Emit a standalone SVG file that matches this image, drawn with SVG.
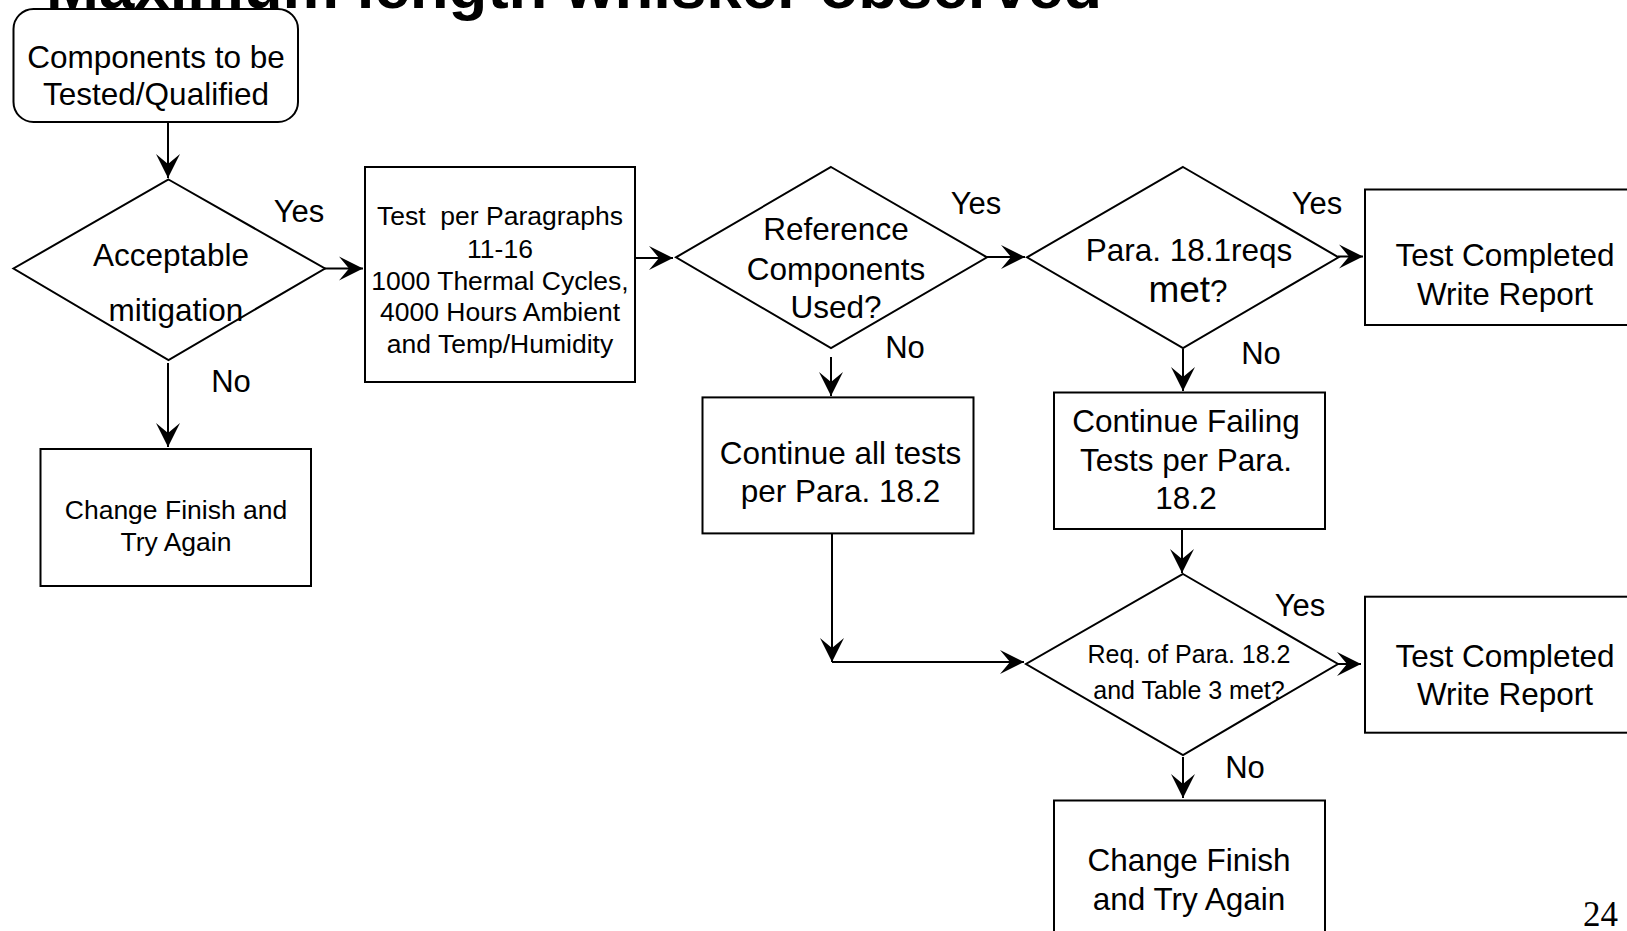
<svg xmlns="http://www.w3.org/2000/svg" width="1627" height="931" viewBox="0 0 1627 931">
<style>
.shape{fill:#fff;stroke:#000;stroke-width:2}
.t{font-family:"Liberation Sans",Arial,sans-serif;font-size:31.5px;fill:#000;text-anchor:middle}
.s{font-size:26.5px}
.r{font-size:25px}
.lbl{font-family:"Liberation Sans",Arial,sans-serif;font-size:31px;fill:#000;text-anchor:middle}
.c{fill:none;stroke:#000;stroke-width:2}
</style>
<defs>
<marker id="ah" markerUnits="userSpaceOnUse" markerWidth="30" markerHeight="30" viewBox="-26 -14 30 28" refX="0" refY="0" orient="auto">
<path d="M0,0 L-24,-12 L-14,0 L-24,12 Z" fill="#000"/>
</marker>
</defs>
<rect width="1627" height="931" fill="#fff"/>
<text x="46" y="8" font-family="'Liberation Sans',Arial,sans-serif" font-weight="bold" font-size="62" fill="#000" textLength="1056" lengthAdjust="spacingAndGlyphs">Maximum length whisker observed</text>

<g id="connectors">
<line class="c" x1="168" y1="122" x2="168" y2="178" marker-end="url(#ah)"/>
<line class="c" x1="324" y1="268.5" x2="363" y2="268.5" marker-end="url(#ah)"/>
<line class="c" x1="168" y1="363" x2="168" y2="447" marker-end="url(#ah)"/>
<line class="c" x1="635" y1="258" x2="673" y2="258" marker-end="url(#ah)"/>
<line class="c" x1="987" y1="257" x2="1025" y2="257" marker-end="url(#ah)"/>
<line class="c" x1="1338" y1="256.5" x2="1363" y2="256.5" marker-end="url(#ah)"/>
<line class="c" x1="831" y1="357" x2="831" y2="396" marker-end="url(#ah)"/>
<line class="c" x1="1183" y1="349" x2="1183" y2="391" marker-end="url(#ah)"/>
<line class="c" x1="832" y1="533" x2="832" y2="662" marker-end="url(#ah)"/>
<line class="c" x1="832" y1="662" x2="1024" y2="662" marker-end="url(#ah)"/>
<line class="c" x1="1182" y1="529" x2="1182" y2="573" marker-end="url(#ah)"/>
<line class="c" x1="1338" y1="664" x2="1361" y2="664" marker-end="url(#ah)"/>
<line class="c" x1="1183" y1="757" x2="1183" y2="798" marker-end="url(#ah)"/>
</g>

<g id="start">
<rect class="shape" x="13.5" y="9" width="284.5" height="113" rx="20"/>
<text class="t" x="156" y="68">Components to be</text>
<text class="t" x="156" y="105">Tested/Qualified</text>
</g>

<g id="d-mitigation">
<polygon class="shape" points="168.5,179.5 325,268.5 168.5,360 13.5,268.5"/>
<text class="t" x="171" y="266">Acceptable</text>
<text class="t" x="176" y="321">mitigation</text>
</g>

<g id="test">
<rect class="shape" x="365" y="167" width="270" height="215"/>
<text class="t s" x="500" y="225" xml:space="preserve">Test  per Paragraphs</text>
<text class="t s" x="500" y="257.5">11-16</text>
<text class="t s" x="500" y="289.5">1000 Thermal Cycles,</text>
<text class="t s" x="500" y="320.5">4000 Hours Ambient</text>
<text class="t s" x="500" y="353">and Temp/Humidity</text>
</g>

<g id="change1">
<rect class="shape" x="40.5" y="449" width="270.5" height="137"/>
<text class="t s" x="176" y="519">Change Finish and</text>
<text class="t s" x="176" y="551">Try Again</text>
</g>

<g id="d-reference">
<polygon class="shape" points="831,167 987,257.3 831,348 676,257.3"/>
<text class="t" x="836" y="240">Reference</text>
<text class="t" x="836" y="280">Components</text>
<text class="t" x="836" y="318">Used?</text>
</g>

<g id="d-181">
<polygon class="shape" points="1183,167 1338.5,257.3 1183,348 1027,257.3"/>
<text class="t" x="1189" y="261">Para. 18.1reqs</text>
<text class="t" x="1188" y="302"><tspan font-size="37">met</tspan>?</text>
</g>

<g id="done1">
<rect class="shape" x="1365" y="189.5" width="280" height="135.5"/>
<text class="t" x="1505" y="266">Test Completed</text>
<text class="t" x="1505" y="304.5">Write Report</text>
</g>

<g id="continue-all">
<rect class="shape" x="702.5" y="397.4" width="271" height="136"/>
<text class="t" x="840.5" y="463.5">Continue all tests</text>
<text class="t" x="840.5" y="501.8">per Para. 18.2</text>
</g>

<g id="continue-failing">
<rect class="shape" x="1054" y="392.5" width="271" height="136.5"/>
<text class="t" x="1186" y="432">Continue Failing</text>
<text class="t" x="1186" y="470.7">Tests per Para.</text>
<text class="t" x="1186" y="509">18.2</text>
</g>

<g id="d-182">
<polygon class="shape" points="1183,574 1338,664 1183,755 1026,664"/>
<text class="t r" x="1189" y="662.7">Req. of Para. 18.2</text>
<text class="t r" x="1189" y="699">and Table 3 met?</text>
</g>

<g id="done2">
<rect class="shape" x="1365" y="596.7" width="280" height="136"/>
<text class="t" x="1505" y="667">Test Completed</text>
<text class="t" x="1505" y="705">Write Report</text>
</g>

<g id="change2">
<rect class="shape" x="1054" y="800.5" width="271" height="150"/>
<text class="t" x="1189" y="871">Change Finish</text>
<text class="t" x="1189" y="909.6">and Try Again</text>
</g>

<g id="labels">
<text class="lbl" x="299" y="221.6">Yes</text>
<text class="lbl" x="231" y="392">No</text>
<text class="lbl" x="976" y="214">Yes</text>
<text class="lbl" x="905" y="357.5">No</text>
<text class="lbl" x="1317" y="214">Yes</text>
<text class="lbl" x="1261" y="364">No</text>
<text class="lbl" x="1300" y="616">Yes</text>
<text class="lbl" x="1245" y="778">No</text>
</g>

<text x="1583" y="926" font-family="'Liberation Serif','Times New Roman',serif" font-size="35" fill="#000">24</text>
</svg>
